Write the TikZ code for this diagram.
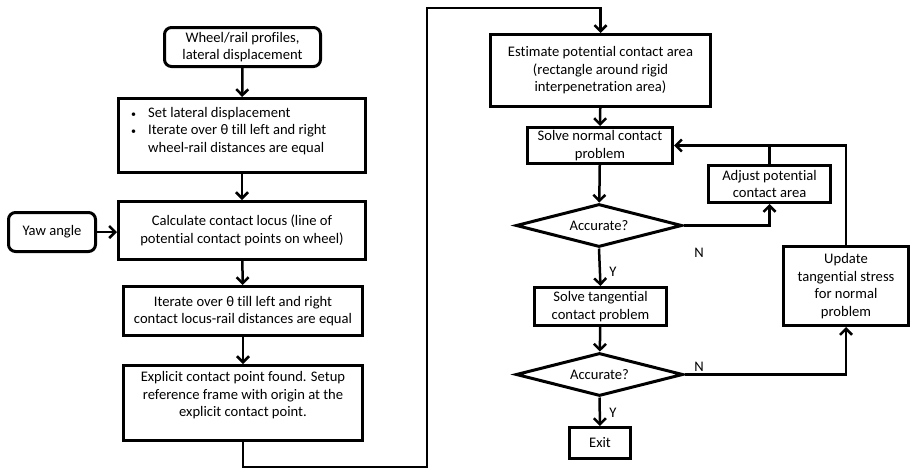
\documentclass[tikz,border=0pt]{standalone}
\usepackage{fontspec}
\setmainfont{Carlito}[Ligatures={NoCommon,NoRequired,NoContextual}]
\usetikzlibrary{arrows.meta,shapes.geometric}
\newcommand{\smbul}{{\fontsize{10}{10}\selectfont\textbullet}}
\begin{document}
\begin{tikzpicture}[x=1pt,y=-1pt,
  every node/.style={font=\fontsize{14.6}{17.5}\selectfont, inner sep=0pt},
  box/.style={draw, line width=3pt, align=center},
  rbox/.style={box, rounded corners=7pt},
  dec/.style={draw, line width=3pt, diamond, aspect=3.7},
  lbl/.style={font=\fontsize{14.6}{16}\selectfont},
  conn/.style={line width=2.5pt, -{Straight Barb[length=6pt,width=12pt]}},
  plain/.style={line width=2.5pt}]
\useasboundingbox (0,0) rectangle (911,469);
% left column
\node[rbox, minimum width=156, minimum height=39] (start) at (242.5,47) {Wheel/rail profiles,\\lateral displacement};
\node[box, minimum width=247, minimum height=74] (b2) at (242,135.5) {};
\node[anchor=base west] (t2) at (131,117) {\begin{tabular}[t]{@{}p{17pt}@{}l@{}}\smbul & Set lateral displacement\\ \smbul & Iterate over θ till left and right\\ & wheel-rail distances are equal\end{tabular}};
\node[box, minimum width=247, minimum height=58] (b3) at (242,230.5) {Calculate contact locus (line of\\potential contact points on wheel)};
\node[rbox, minimum width=87, minimum height=39] (yaw) at (52,232) {Yaw angle};
\node[box, minimum width=239, minimum height=49] (b4) at (243,311) {Iterate over θ till left and right\\contact locus-rail distances are equal};
\node[box, minimum width=239, minimum height=75] (b5) at (243,403) {};
\node[align=center] (t5) at (243,395.5) {Explicit contact point found. Setup\\reference frame with origin at the\\explicit contact point.};
% right column
\node[box, minimum width=220, minimum height=72] (est) at (600.5,70.5) {Estimate potential contact area\\(rectangle around rigid\\interpenetration area)};
\node[box, minimum width=145, minimum height=36] (norm) at (600,145.5) {Solve normal contact\\problem};
\node[dec, minimum width=166, minimum height=43] (d1) at (599,225.5) {Accurate?};
\node[box, minimum width=122, minimum height=37] (adj) at (769.5,184) {Adjust potential\\contact area};
\node[box, minimum width=125, minimum height=79] (upd) at (846,286) {Update\\tangential stress\\for normal\\problem};
\node[box, minimum width=132, minimum height=38] (tan) at (600.5,306.5) {Solve tangential\\contact problem};
\node[dec, minimum width=167, minimum height=43] (d2) at (599.5,374.5) {Accurate?};
\node[box, minimum width=61, minimum height=31] (exit) at (600,443) {Exit};
% connectors
\draw[conn] (start) -- (b2);
\draw[conn] (b2) -- (b3);
\draw[conn] (yaw.east) -- (b3.west |- yaw.east);
\draw[conn] (b3) -- (b4);
\draw[conn] (b4) -- (b5);
\coordinate (c1) at (243,467);
\coordinate (c2) at (427,467);
\coordinate (c3) at (427,8);
\coordinate (c4) at (600.5,8);
\draw[conn] (b5.south) -- (c1) -- (c2) -- (c3) -- (c4) -- (est.north);
\draw[conn] (est) -- (norm);
\draw[conn] (norm) -- (d1);
\draw[conn] (d1.east) -| (adj.south);
\draw[plain] (adj.north) -- (adj.north |- norm.east);
\draw[conn] (upd.north) |- (norm.east);
\draw[conn] (d1.south) -- (tan.north);
\draw[conn] (tan) -- (d2);
\draw[conn] (d2.east) -| (upd.south);
\draw[conn] (d2.south) -- (exit.north);
% labels
\node[lbl] (y1) at (613,272) {Y};
\node[lbl] (y2) at (613,413) {Y};
\node[lbl] (n1) at (699,253) {N};
\node[lbl] (n2) at (699,367) {N};
\end{tikzpicture}
\end{document}
